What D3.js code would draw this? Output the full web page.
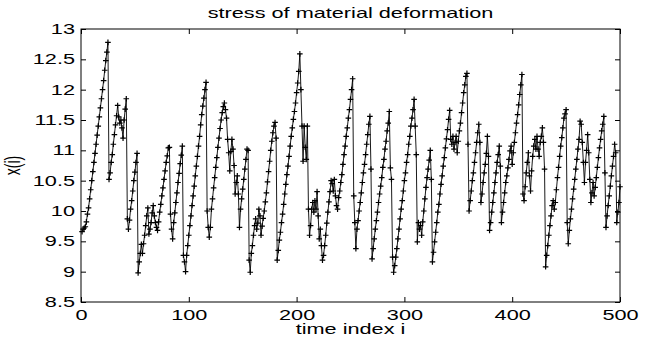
<!DOCTYPE html>
<html>
<head>
<meta charset="utf-8">
<script src="https://cdn.jsdelivr.net/npm/d3@7"></script>
<style>
  html, body { margin: 0; padding: 0; background: #fff; }
  svg text { font-family: "Liberation Sans", Arial, Helvetica, sans-serif; fill: #000; }
</style>
</head>
<body>
<svg id="chart" width="645" height="341"></svg>
<script>
const titleText = "stress of material deformation";
const xLabelText = "time index i";
const yLabelText = "x(i)";

const xTicks = [0, 100, 200, 300, 400, 500];
const yTicks = [8.5, 9, 9.5, 10, 10.5, 11, 11.5, 12, 12.5, 13];

// stress x(i), i = 1..500
const stress = [
  9.66, 9.70, 9.72, 9.74, 9.82, 9.95, 10.05, 10.20, 10.35, 10.50,
  10.65, 10.80, 10.95, 11.10, 11.25, 11.40, 11.55, 11.70, 11.85, 12.00,
  12.15, 12.32, 12.48, 12.62, 12.78, 10.52, 10.63, 10.80, 10.93, 11.10,
  11.26, 11.42, 11.57, 11.74, 11.55, 11.45, 11.50, 11.37, 11.20, 11.50,
  11.68, 11.85, 9.87, 9.70, 9.85, 10.03, 10.17, 10.33, 10.50, 10.64,
  10.80, 10.95, 8.98, 9.16, 9.30, 9.45, 9.30, 9.46, 9.60, 9.76,
  9.92, 10.05, 9.62, 9.70, 9.81, 9.97, 10.09, 9.92, 9.81, 9.73,
  9.68, 9.82, 9.98, 10.11, 10.25, 10.38, 10.52, 10.66, 10.80, 10.91,
  11.04, 11.05, 9.95, 9.70, 9.54, 9.81, 9.97, 10.14, 10.30, 10.47,
  10.62, 10.78, 10.92, 11.07, 9.27, 9.16, 9.00, 9.27, 9.43, 9.60,
  9.76, 9.92, 10.09, 10.25, 10.41, 10.58, 10.74, 10.90, 11.07, 11.23,
  11.42, 11.59, 11.73, 11.86, 12.00, 12.12, 10.00, 9.73, 9.57, 9.73,
  10.03, 10.20, 10.38, 10.55, 10.72, 10.88, 11.05, 11.20, 11.36, 11.50,
  11.62, 11.72, 11.78, 11.67, 11.53, 11.18, 10.96, 10.66, 10.98, 11.18,
  11.02, 10.75, 10.28, 10.47, 10.58, 10.28, 9.73, 10.03, 10.20, 10.36,
  10.52, 10.69, 10.85, 11.02, 11.00, 9.19, 8.99, 9.30, 9.43, 9.60,
  9.76, 9.87, 9.70, 9.80, 10.03, 9.92, 9.60, 9.75, 9.88, 10.00,
  10.15, 10.30, 10.48, 10.65, 10.82, 11.00, 11.15, 11.29, 11.40, 11.46,
  11.20, 9.19, 9.35, 9.52, 9.65, 9.81, 9.95, 10.11, 10.28, 10.44,
  10.60, 10.74, 10.90, 11.07, 11.23, 11.37, 11.51, 11.64, 11.78, 11.95,
  12.11, 12.30, 12.59, 12.00, 11.40, 10.82, 11.40, 11.05, 10.85, 11.40,
  10.03, 9.60, 9.76, 10.03, 10.14, 9.98, 10.17, 10.03, 10.32, 9.92,
  9.54, 9.70, 9.43, 9.19, 9.27, 9.43, 9.60, 9.80, 9.98, 10.15,
  10.32, 10.50, 10.45, 10.33, 10.52, 10.25, 10.09, 10.03, 10.22, 10.33,
  10.47, 10.60, 10.77, 10.93, 11.07, 11.23, 11.37, 11.53, 11.67, 11.84,
  12.00, 12.18, 10.25, 9.81, 9.38, 9.70, 9.84, 10.00, 10.14, 10.30,
  10.47, 10.63, 10.77, 10.93, 11.10, 11.26, 11.43, 11.56, 10.69, 9.21,
  9.38, 9.54, 9.70, 9.84, 9.98, 10.14, 10.28, 10.41, 10.55, 10.72,
  10.85, 11.02, 11.15, 11.32, 11.45, 11.64, 10.71, 10.52, 9.24, 8.99,
  9.10, 9.24, 9.38, 9.54, 9.70, 9.87, 10.03, 10.17, 10.33, 10.50,
  10.63, 10.80, 10.93, 11.10, 11.23, 11.40, 11.53, 11.67, 11.84, 11.40,
  10.93, 9.49, 9.81, 9.70, 9.76, 9.60, 9.82, 10.00, 10.20, 10.39,
  10.55, 10.69, 10.84, 11.00, 10.52, 9.16, 9.32, 9.49, 9.65, 9.81,
  9.98, 10.11, 10.28, 10.44, 10.58, 10.74, 10.88, 11.04, 11.19, 11.34,
  11.51, 11.66, 11.18, 11.10, 11.23, 11.02, 11.13, 11.23, 10.96, 11.15,
  11.32, 11.45, 11.62, 11.78, 11.95, 12.08, 12.22, 12.27, 11.10, 10.00,
  10.17, 10.33, 10.50, 10.63, 10.80, 10.96, 11.13, 11.29, 11.43, 11.13,
  10.14, 10.28, 10.47, 10.63, 10.77, 10.95, 11.23, 10.90, 9.68, 9.81,
  9.98, 10.14, 10.30, 10.47, 10.63, 10.80, 10.93, 11.07, 10.74, 9.81,
  9.98, 10.14, 10.30, 10.47, 10.58, 10.71, 10.85, 10.99, 11.07, 10.77,
  10.96, 11.13, 11.29, 11.45, 11.59, 11.75, 11.92, 12.08, 12.25, 10.28,
  10.17, 10.40, 10.63, 10.80, 10.96, 10.58, 10.33, 10.66, 10.90, 11.07,
  11.18, 11.02, 11.23, 11.02, 10.90, 11.13, 11.23, 11.37, 11.13, 10.69,
  9.08, 9.27, 9.43, 9.60, 9.76, 9.92, 10.09, 10.17, 10.03, 10.14,
  10.35, 10.55, 10.72, 10.90, 11.07, 11.21, 11.37, 11.53, 11.60, 11.67,
  9.81, 9.46, 9.68, 9.87, 10.03, 10.20, 10.36, 10.52, 10.69, 10.85,
  11.02, 11.18, 11.48, 11.43, 11.13, 10.80, 10.47, 10.80, 11.00, 11.26,
  10.96, 10.52, 10.14, 10.30, 10.47, 10.25, 10.39, 10.55, 10.72, 10.88,
  11.04, 11.18, 11.32, 11.43, 11.56, 10.63, 9.73, 9.92, 10.09, 10.25,
  10.41, 10.58, 10.74, 10.90, 11.10, 10.96, 9.81, 9.98, 10.14, 10.40
];

const svg = d3.select("#chart");

const plotLeft = 81;
const plotRight = 620;
const plotTop = 29;
const plotBottom = 302;
const tickLen = 5;

// the picture is stretched sideways, so text is too
const stretch = 1.55;
const fontSize = 14;

const x = d3.scaleLinear().domain([0, 500]).range([plotLeft, plotRight]);
const y = d3.scaleLinear().domain([8.5, 13]).range([plotBottom, plotTop]);

const points = stress.map((v, i) => ({ i: i + 1, v: v }));

// data line
svg.append("path")
  .datum(points)
  .attr("fill", "none")
  .attr("stroke", "#000")
  .attr("stroke-width", 0.9)
  .attr("d", d3.line().x(d => x(d.i)).y(d => y(d.v)));

// plus markers
const ms = 2.8;
svg.append("g")
  .selectAll("path")
  .data(points)
  .join("path")
  .attr("fill", "none")
  .attr("stroke", "#000")
  .attr("stroke-width", 1.2)
  .attr("d", d => {
    const px = x(d.i), py = y(d.v);
    return `M${px - ms},${py}H${px + ms}M${px},${py - ms}V${py + ms}`;
  });

// axes with ticks pointing in
const xAxis = svg.append("g")
  .attr("transform", `translate(0,${plotBottom})`)
  .call(d3.axisBottom(x).tickValues(xTicks).tickFormat(d => String(d))
    .tickSizeInner(-tickLen).tickSizeOuter(0));
xAxis.select(".domain").remove();
xAxis.selectAll("text")
  .attr("font-size", fontSize)
  .attr("dy", 0)
  .attr("y", 18)
  .attr("transform", `scale(${stretch},1)`);

const xAxisTop = svg.append("g")
  .attr("transform", `translate(0,${plotTop})`)
  .call(d3.axisTop(x).tickValues(xTicks).tickSizeInner(-tickLen).tickSizeOuter(0));
xAxisTop.select(".domain").remove();
xAxisTop.selectAll("text").remove();

const yAxis = svg.append("g")
  .attr("transform", `translate(${plotLeft},0)`)
  .call(d3.axisLeft(y).tickValues(yTicks).tickFormat(d => String(d))
    .tickSizeInner(-tickLen).tickSizeOuter(0));
yAxis.select(".domain").remove();
yAxis.selectAll("text")
  .attr("font-size", fontSize)
  .attr("x", -6 / stretch)
  .attr("transform", `scale(${stretch},1)`);

const yAxisRight = svg.append("g")
  .attr("transform", `translate(${plotRight},0)`)
  .call(d3.axisRight(y).tickValues(yTicks).tickSizeInner(-tickLen).tickSizeOuter(0));
yAxisRight.select(".domain").remove();
yAxisRight.selectAll("text").remove();

svg.selectAll(".tick line").attr("stroke", "#000");

// box
svg.append("rect")
  .attr("x", plotLeft)
  .attr("y", plotTop)
  .attr("width", plotRight - plotLeft)
  .attr("height", plotBottom - plotTop)
  .attr("fill", "none")
  .attr("stroke", "#000")
  .attr("stroke-width", 1);

// title and labels
svg.append("text")
  .attr("transform", `translate(${(plotLeft + plotRight) / 2},18) scale(${stretch},1)`)
  .attr("text-anchor", "middle")
  .attr("font-size", fontSize)
  .text(titleText);

svg.append("text")
  .attr("transform", `translate(${(plotLeft + plotRight) / 2},334) scale(${stretch},1)`)
  .attr("text-anchor", "middle")
  .attr("font-size", fontSize)
  .text(xLabelText);

svg.append("text")
  .attr("transform", `translate(20,${(plotTop + plotBottom) / 2}) scale(${stretch},1) rotate(-90)`)
  .attr("text-anchor", "middle")
  .attr("font-size", fontSize)
  .text(yLabelText);
</script>
</body>
</html>
